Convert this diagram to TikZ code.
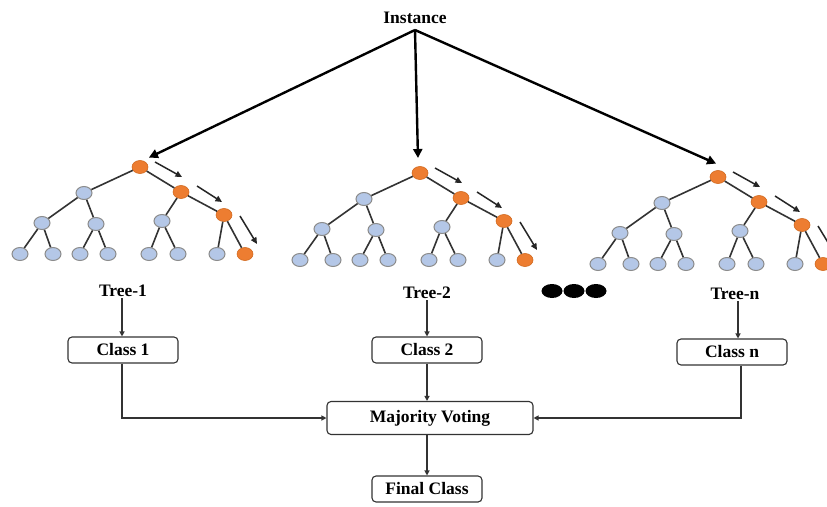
\documentclass[tikz,border=0pt]{standalone}
\usepackage{fontspec}
\setmainfont{Liberation Serif}
\usetikzlibrary{shapes.geometric,arrows.meta}
\definecolor{orng}{HTML}{ED7D31}
\definecolor{orngd}{HTML}{D2691E}
\definecolor{lblue}{HTML}{B4C7E7}
\definecolor{lgray}{HTML}{8C8C8C}
\definecolor{edgec}{HTML}{333333}
\tikzset{
  onode/.style={ellipse,fill=orng,draw=orngd,line width=0.6pt,minimum width=16pt,minimum height=13pt,inner sep=0pt},
  bnode/.style={ellipse,fill=lblue,draw=lgray,line width=1pt,minimum width=16pt,minimum height=13pt,inner sep=0pt},
  tedge/.style={draw=edgec,line width=1.6pt},
  patharrow/.style={draw=black!85,line width=1.5pt,-{Triangle[length=6.5pt,width=6pt]}},
  bigarrow/.style={draw=black,line width=2.4pt,-{Triangle[length=9pt,width=9pt]},shorten >=1pt},
  lbl/.style={font=\bfseries\fontsize{17.5}{20}\selectfont,inner sep=1pt},
  box/.style={draw=black!80,rounded corners=4pt,line width=1.1pt,font=\bfseries\fontsize{17.5}{20}\selectfont,minimum width=110pt,minimum height=26pt,inner sep=2pt},
  flow/.style={draw=black!80,line width=1.2pt,-{Triangle[length=5pt,width=5pt]}},
  dot/.style={ellipse,fill=black,minimum width=21pt,minimum height=14pt,inner sep=0pt},
  rftree/.pic={
    \node[onode] (-r) at (0,0) {};
    \node[bnode] (-a) at (-56,26) {};
    \node[onode] (-b) at (41,25) {};
    \node[bnode] (-c) at (-98,56) {};
    \node[bnode] (-d) at (-44,57) {};
    \node[bnode] (-e) at (22,54) {};
    \node[onode] (-f) at (84,48) {};
    \node[bnode] (-l1) at (-120,87) {};
    \node[bnode] (-l2) at (-87,87) {};
    \node[bnode] (-l3) at (-60,87) {};
    \node[bnode] (-l4) at (-32,87) {};
    \node[bnode] (-l5) at (9,87) {};
    \node[bnode] (-l6) at (38,87) {};
    \node[bnode] (-l7) at (77,87) {};
    \node[onode] (-l8) at (105,87) {};
    \draw[tedge] (-r) -- (-a);
    \draw[tedge] (-r) -- (-b);
    \draw[tedge] (-a) -- (-c);
    \draw[tedge] (-a) -- (-d);
    \draw[tedge] (-c) -- (-l1);
    \draw[tedge] (-c) -- (-l2);
    \draw[tedge] (-d) -- (-l3);
    \draw[tedge] (-d) -- (-l4);
    \draw[tedge] (-b) -- (-e);
    \draw[tedge] (-b) -- (-f);
    \draw[tedge] (-e) -- (-l5);
    \draw[tedge] (-e) -- (-l6);
    \draw[tedge] (-f) -- (-l7);
    \draw[tedge] (-f) -- (-l8);
    \coordinate (-p1s) at (15,-5);
    \coordinate (-p1e) at (42,10);
    \coordinate (-p2s) at (57,19);
    \coordinate (-p2e) at (82,35);
    \coordinate (-p3s) at (100,49);
    \coordinate (-p3e) at (117,77);
    \draw[patharrow] (-p1s) -- (-p1e);
    \draw[patharrow] (-p2s) -- (-p2e);
    \draw[patharrow] (-p3s) -- (-p3e);
  }
}
\begin{document}
\begin{tikzpicture}[x=1pt,y=-1pt]
\useasboundingbox (0,0) rectangle (827,506);
\clip (0,0) rectangle (827,506);
\fill[white] (0,0) rectangle (827,506);

\node[lbl] (inst) at (415,18) {Instance};
\coordinate (src) at (415,30);

\pic (t1) at (140,167) {rftree};
\pic (t2) at (420,173) {rftree};
\pic (t3) at (718,177) {rftree};

\draw[bigarrow] (src) -- ([shift={(8,-9)}]t1-r.center);
\draw[bigarrow] (src) -- ([shift={(-2,-14)}]t2-r.center);
\draw[bigarrow] (src) -- ([shift={(-1,-13)}]t3-r.center);

\node[lbl] (tr1) at (123,291) {Tree-1};
\node[lbl] (tr2) at (427,293) {Tree-2};
\node[lbl] (trn) at (735,294) {Tree-n};

\node[dot] (d1) at (552,291) {};
\node[dot] (d2) at (574,291) {};
\node[dot] (d3) at (596,291) {};

\node[box] (c1) at (123,350) {Class 1};
\node[box] (c2) at (427,350) {Class 2};
\node[box] (cn) at (732,352) {Class n};
\node[box,minimum width=206pt,minimum height=33pt] (mv) at (430,418) {Majority Voting};
\node[box] (fc) at (427,489) {Final Class};

\draw[flow] ([xshift=-1pt]tr1.south) -- ([xshift=-1pt]c1.north);
\draw[flow] (tr2.south) -- (c2.north);
\draw[flow] ([xshift=3pt]trn.south) -- ([xshift=6pt]cn.north);
\draw[flow] ([xshift=-1pt]c1.south) |- (mv.west);
\draw[flow] (c2.south) -- (c2.south |- mv.north);
\draw[flow] ([xshift=9pt]cn.south) |- (mv.east);
\draw[flow] (mv.south -| fc.north) -- (fc.north);
\end{tikzpicture}
\end{document}
